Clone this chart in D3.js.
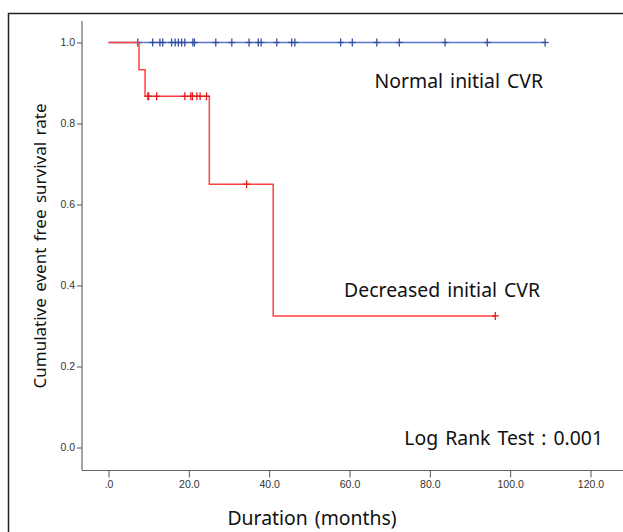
<html>
	<head>
		<meta charset="UTF-8">
		<title>Cumulative event free survival</title>
		<script src="https://d3js.org/d3.v7.min.js"></script>
	<style>
		body{
			margin: 0;
			background: #fff;
		}
		svg{
			display: block;
		}
		.tick text{
			font-family: "Liberation Sans", Arial, sans-serif;
			font-size: 10.5px;
			fill: #333;
		}
		.big{
			font-family: "Noto Sans", sans-serif;
			font-size: 19.4px;
			fill: #111;
			word-spacing: 2px;
		}
	</style>
	</head>
	<body>
		<script type="text/javascript">
			var width = 623;
			var height = 532;

			// x ticks and y ticks
			var xTicks = [0, 20, 40, 60, 80, 100, 120];
			var xTickLabels = [".0", "20.0", "40.0", "60.0", "80.0", "100.0", "120.0"];
			var yTicks = [0, 0.2, 0.4, 0.6, 0.8, 1.0];

			// Normal initial CVR (no events)
			var normalTimes = [0, 108.7];
			var normalSurv = [1.0, 1.0];
			var normalCensored = [7.3, 11.0, 12.8, 13.5, 15.7, 16.6, 17.4, 18.2, 19.0, 21.0, 21.4,
				26.7, 30.7, 35.0, 37.3, 38.0, 41.9, 45.6, 46.4, 57.8, 60.7, 66.8, 72.4, 83.8, 94.3, 108.7];

			// Decreased initial CVR
			var decreasedTimes = [0, 7.6, 9.1, 25.1, 41.0, 96.3];
			var decreasedSurv = [1.0, 0.933, 0.867, 0.65, 0.325, 0.325];
			var decreasedCensored = [9.8, 10.0, 12.0, 19.0, 20.5, 20.9, 22.0, 22.8, 24.4, 34.4, 96.3];

			var labels = ["Normal initial CVR", "Decreased initial CVR"];

			var svg = d3.select("body")
						.append("svg")
						.attr("width", width)
						.attr("height", height);

			// frame (only left and top edges fall inside the picture)
			svg.append("rect")
				.attr("x", 8.5)
				.attr("y", 13.5)
				.attr("width", 700)
				.attr("height", 600)
				.attr("fill", "none")
				.attr("stroke", "#222")
				.attr("stroke-width", 1.5);

			var x = d3.scaleLinear().domain([0, 120]).range([108.5, 590.5]);
			var y = d3.scaleLinear().domain([0, 1]).range([447.5, 42.5]);
			var axisY = 470.5;
			var axisX = 82;

			// axis lines
			svg.append("line")
				.attr("x1", axisX).attr("x2", width)
				.attr("y1", axisY).attr("y2", axisY)
				.attr("stroke", "#666").attr("stroke-width", 1.2);
			svg.append("line")
				.attr("x1", axisX).attr("x2", axisX)
				.attr("y1", 21).attr("y2", axisY)
				.attr("stroke", "#666").attr("stroke-width", 1.2);

			var gx = svg.append("g")
				.attr("transform", "translate(0," + axisY + ")")
				.call(d3.axisBottom(x)
					.tickValues(xTicks)
					.tickSize(7)
					.tickPadding(3)
					.tickFormat(function(d, i){ return xTickLabels[i]; }));
			gx.select(".domain").remove();
			gx.selectAll(".tick line").attr("stroke", "#555");

			var gy = svg.append("g")
				.attr("transform", "translate(" + axisX + ",0)")
				.call(d3.axisLeft(y)
					.tickValues(yTicks)
					.tickSize(5)
					.tickPadding(2)
					.tickFormat(d3.format(".1f")));
			gy.select(".domain").remove();
			gy.selectAll(".tick line").attr("stroke", "#555");

			var drawCurve = function(times, surv, censored, lineColor, markColor){
				var pts = times.map(function(t, i){ return [t, surv[i]]; });
				var line = d3.line()
					.x(function(d){ return x(d[0]); })
					.y(function(d){ return y(d[1]); })
					.curve(d3.curveStepAfter);
				svg.append("path")
					.datum(pts)
					.attr("d", line)
					.attr("fill", "none")
					.attr("stroke", lineColor)
					.attr("stroke-width", 1.5);

				// survival value at a censor time
				var survAt = function(t){
					var s = surv[0];
					for (var i = 0; i < times.length; i++){
						if (times[i] <= t) s = surv[i];
					}
					return s;
				};
				var marks = svg.append("g").selectAll("g")
					.data(censored)
					.enter()
					.append("g")
					.attr("transform", function(d){
						return "translate(" + x(d) + "," + y(survAt(d)) + ")";
					});
				marks.append("line")
					.attr("x1", 0).attr("x2", 0)
					.attr("y1", -4).attr("y2", 4)
					.attr("stroke", markColor).attr("stroke-width", 1.3);
				marks.append("line")
					.attr("x1", -3.5).attr("x2", 3.5)
					.attr("y1", 0).attr("y2", 0)
					.attr("stroke", markColor).attr("stroke-width", 1.3);
			};

			drawCurve(normalTimes, normalSurv, normalCensored, "#5b78cc", "#34509e");
			drawCurve(decreasedTimes, decreasedSurv, decreasedCensored, "#ff4040", "#e02020");

			// labels
			svg.append("text").attr("class", "big")
				.attr("x", 543).attr("y", 88)
				.attr("text-anchor", "end")
				.text(labels[0]);
			svg.append("text").attr("class", "big")
				.attr("x", 540).attr("y", 297)
				.attr("text-anchor", "end")
				.text(labels[1]);
			svg.append("text").attr("class", "big")
				.attr("x", 603).attr("y", 445)
				.attr("text-anchor", "end")
				.text("Log Rank Test : 0.001");
			svg.append("text").attr("class", "big")
				.attr("x", 312).attr("y", 525)
				.attr("text-anchor", "middle")
				.text("Duration (months)");
			svg.append("text").attr("class", "big")
				.attr("transform", "translate(46,246) rotate(-90)")
				.attr("text-anchor", "middle")
				.style("font-size", "17px")
				.text("Cumulative event free survival rate");
		</script>
	</body>
</html>
